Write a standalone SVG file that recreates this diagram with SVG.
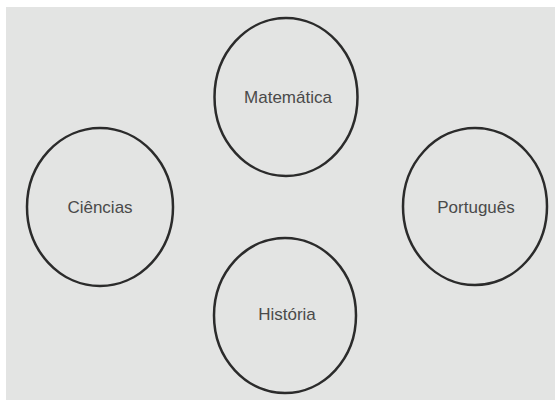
<svg xmlns="http://www.w3.org/2000/svg" width="555" height="400" viewBox="0 0 555 400">
<style>
.n{fill:none;stroke:#2b2b2b;stroke-width:2.5}
.t{font-family:"Liberation Sans",Arial,sans-serif;font-size:17px;fill:#4a4a4a;text-anchor:middle}
</style>
<rect x="0" y="0" width="555" height="400" fill="#ffffff"/>
<rect x="6" y="7" width="549" height="393" fill="#e3e4e3"/>
<g id="connectors"></g>
<g id="matematica"><ellipse class="n" cx="286" cy="97" rx="71.5" ry="79"/><text class="t" x="288" y="103">Matemática</text></g>
<g id="ciencias"><ellipse class="n" cx="100" cy="207" rx="73" ry="79"/><text class="t" x="100" y="213">Ciências</text></g>
<g id="portugues"><ellipse class="n" cx="475" cy="206.5" rx="72" ry="78.5"/><text class="t" x="476" y="213">Português</text></g>
<g id="historia"><ellipse class="n" cx="285" cy="315.5" rx="71" ry="77.5"/><text class="t" x="287" y="320">História</text></g>
</svg>
